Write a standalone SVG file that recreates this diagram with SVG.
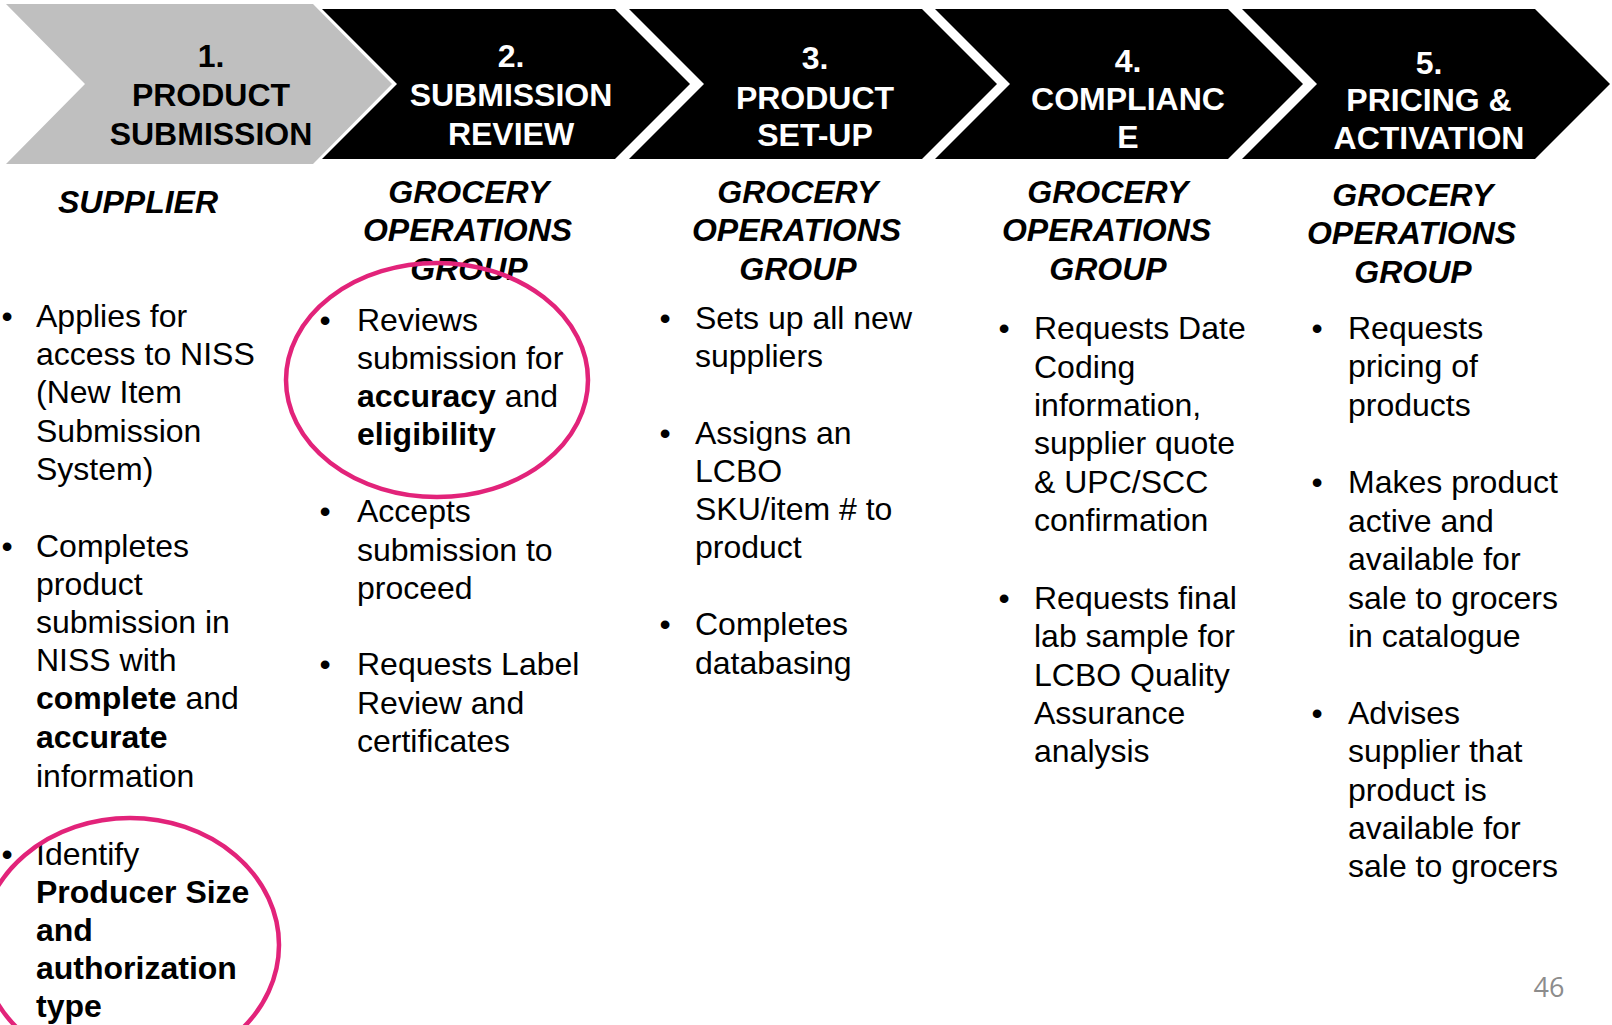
<svg xmlns="http://www.w3.org/2000/svg" width="1612" height="1025" viewBox="0 0 1612 1025">
  <style>
    .stage-dark { fill: #000000; }
    .stage-light { fill: #bfbfbf; }
    .stage-title { font-family: "Liberation Sans", Arial, sans-serif; font-weight: bold; font-size: 32px; text-anchor: middle; }
    .on-dark { fill: #ffffff; }
    .on-light { fill: #000000; }
    .role { font-family: "Liberation Sans", Arial, sans-serif; font-weight: bold; font-style: italic; font-size: 32px; text-anchor: middle; fill: #000000; }
    .body { font-family: "Liberation Sans", Arial, sans-serif; font-size: 32px; fill: #000000; }
    .bullet { font-family: "Liberation Sans", Arial, sans-serif; font-size: 32px; fill: #000000; text-anchor: middle; }
    .b { font-weight: bold; }
    .highlight { fill: none; stroke: #e2237a; stroke-width: 4.5; }
    .page-no { font-family: "Open Sans", "Liberation Sans", sans-serif; font-size: 27px; fill: #8c8c8c; text-anchor: middle; }
  </style>

  <rect width="1612" height="1025" fill="#ffffff"/>

  <!-- process chevrons -->
  <g id="stage-1">
    <polygon class="stage-light" points="6,4 313,4 392,84 313,164 6,164 85,84"/>
    <text class="stage-title on-light" x="211" y="67">1.</text>
    <text class="stage-title on-light" x="211" y="106">PRODUCT</text>
    <text class="stage-title on-light" x="211" y="145">SUBMISSION</text>
  </g>
  <g id="stage-2">
    <polygon class="stage-dark" points="322,9 615,9 690,84 615,159 322,159 397,84"/>
    <text class="stage-title on-dark" x="511" y="67">2.</text>
    <text class="stage-title on-dark" x="511" y="106">SUBMISSION</text>
    <text class="stage-title on-dark" x="511" y="145">REVIEW</text>
  </g>
  <g id="stage-3">
    <polygon class="stage-dark" points="629,9 922,9 997,84 922,159 629,159 704,84"/>
    <text class="stage-title on-dark" x="815" y="69">3.</text>
    <text class="stage-title on-dark" x="815" y="109">PRODUCT</text>
    <text class="stage-title on-dark" x="815" y="146">SET-UP</text>
  </g>
  <g id="stage-4">
    <polygon class="stage-dark" points="935,9 1228,9 1303,84 1228,159 935,159 1010,84"/>
    <text class="stage-title on-dark" x="1128" y="72">4.</text>
    <text class="stage-title on-dark" x="1128" y="110">COMPLIANC</text>
    <text class="stage-title on-dark" x="1128" y="148">E</text>
  </g>
  <g id="stage-5">
    <polygon class="stage-dark" points="1242,9 1535,9 1610,84 1535,159 1242,159 1317,84"/>
    <text class="stage-title on-dark" x="1429" y="74">5.</text>
    <text class="stage-title on-dark" x="1429" y="111">PRICING &amp;</text>
    <text class="stage-title on-dark" x="1429" y="149">ACTIVATION</text>
  </g>

  <!-- column 1: supplier -->
  <g id="col-supplier">
    <text class="role" x="138" y="213">SUPPLIER</text>
    <text class="bullet" x="7" y="327">•</text>
    <text class="body">
      <tspan x="36" y="327">Applies for</tspan>
      <tspan x="36" y="365">access to NISS</tspan>
      <tspan x="36" y="403">(New Item</tspan>
      <tspan x="36" y="442">Submission</tspan>
      <tspan x="36" y="480">System)</tspan>
    </text>
    <text class="bullet" x="7" y="557">•</text>
    <text class="body">
      <tspan x="36" y="557">Completes</tspan>
      <tspan x="36" y="595">product</tspan>
      <tspan x="36" y="633">submission in</tspan>
      <tspan x="36" y="671">NISS with</tspan>
      <tspan x="36" y="709"><tspan class="b">complete</tspan> and</tspan>
      <tspan x="36" y="748" class="b">accurate</tspan>
      <tspan x="36" y="787">information</tspan>
    </text>
    <text class="bullet" x="7" y="865">•</text>
    <text class="body">
      <tspan x="36" y="865">Identify</tspan>
      <tspan x="36" y="903" class="b">Producer Size</tspan>
      <tspan x="36" y="941" class="b">and</tspan>
      <tspan x="36" y="979" class="b">authorization</tspan>
      <tspan x="36" y="1017" class="b">type</tspan>
    </text>
  </g>

  <!-- column 2: submission review -->
  <g id="col-review">
    <text class="role">
      <tspan x="473" y="203">GROCERY</tspan>
      <tspan x="472" y="241">OPERATIONS</tspan>
      <tspan x="469" y="280">GROUP</tspan>
    </text>
    <text class="bullet" x="325" y="331">•</text>
    <text class="body">
      <tspan x="357" y="331">Reviews</tspan>
      <tspan x="357" y="369">submission for</tspan>
      <tspan x="357" y="407"><tspan class="b">accuracy</tspan> and</tspan>
      <tspan x="357" y="445" class="b">eligibility</tspan>
    </text>
    <text class="bullet" x="325" y="522">•</text>
    <text class="body">
      <tspan x="357" y="522">Accepts</tspan>
      <tspan x="357" y="561">submission to</tspan>
      <tspan x="357" y="599">proceed</tspan>
    </text>
    <text class="bullet" x="325" y="675">•</text>
    <text class="body">
      <tspan x="357" y="675">Requests Label</tspan>
      <tspan x="357" y="714">Review and</tspan>
      <tspan x="357" y="752">certificates</tspan>
    </text>
  </g>

  <!-- column 3: product set-up -->
  <g id="col-setup">
    <text class="role">
      <tspan x="802" y="203">GROCERY</tspan>
      <tspan x="801" y="241">OPERATIONS</tspan>
      <tspan x="798" y="280">GROUP</tspan>
    </text>
    <text class="bullet" x="665" y="329">•</text>
    <text class="body">
      <tspan x="695" y="329">Sets up all new</tspan>
      <tspan x="695" y="367">suppliers</tspan>
    </text>
    <text class="bullet" x="665" y="444">•</text>
    <text class="body">
      <tspan x="695" y="444">Assigns an</tspan>
      <tspan x="695" y="482">LCBO</tspan>
      <tspan x="695" y="520">SKU/item # to</tspan>
      <tspan x="695" y="558">product</tspan>
    </text>
    <text class="bullet" x="665" y="635">•</text>
    <text class="body">
      <tspan x="695" y="635">Completes</tspan>
      <tspan x="695" y="674">databasing</tspan>
    </text>
  </g>

  <!-- column 4: compliance -->
  <g id="col-compliance">
    <text class="role">
      <tspan x="1112" y="203">GROCERY</tspan>
      <tspan x="1111" y="241">OPERATIONS</tspan>
      <tspan x="1108" y="280">GROUP</tspan>
    </text>
    <text class="bullet" x="1004" y="339">•</text>
    <text class="body">
      <tspan x="1034" y="339">Requests Date</tspan>
      <tspan x="1034" y="378">Coding</tspan>
      <tspan x="1034" y="416">information,</tspan>
      <tspan x="1034" y="454">supplier quote</tspan>
      <tspan x="1034" y="493">&amp; UPC/SCC</tspan>
      <tspan x="1034" y="531">confirmation</tspan>
    </text>
    <text class="bullet" x="1004" y="609">•</text>
    <text class="body">
      <tspan x="1034" y="609">Requests final</tspan>
      <tspan x="1034" y="647">lab sample for</tspan>
      <tspan x="1034" y="686">LCBO Quality</tspan>
      <tspan x="1034" y="724">Assurance</tspan>
      <tspan x="1034" y="762">analysis</tspan>
    </text>
  </g>

  <!-- column 5: pricing & activation -->
  <g id="col-activation">
    <text class="role">
      <tspan x="1417" y="206">GROCERY</tspan>
      <tspan x="1416" y="244">OPERATIONS</tspan>
      <tspan x="1413" y="283">GROUP</tspan>
    </text>
    <text class="bullet" x="1317" y="339">•</text>
    <text class="body">
      <tspan x="1348" y="339">Requests</tspan>
      <tspan x="1348" y="377">pricing of</tspan>
      <tspan x="1348" y="416">products</tspan>
    </text>
    <text class="bullet" x="1317" y="493">•</text>
    <text class="body">
      <tspan x="1348" y="493">Makes product</tspan>
      <tspan x="1348" y="532">active and</tspan>
      <tspan x="1348" y="570">available for</tspan>
      <tspan x="1348" y="609">sale to grocers</tspan>
      <tspan x="1348" y="647">in catalogue</tspan>
    </text>
    <text class="bullet" x="1317" y="724">•</text>
    <text class="body">
      <tspan x="1348" y="724">Advises</tspan>
      <tspan x="1348" y="762">supplier that</tspan>
      <tspan x="1348" y="801">product is</tspan>
      <tspan x="1348" y="839">available for</tspan>
      <tspan x="1348" y="877">sale to grocers</tspan>
    </text>
  </g>

  <!-- hand-drawn style highlight rings -->
  <g id="highlights">
    <ellipse class="highlight" cx="437" cy="380" rx="151" ry="117"/>
    <ellipse class="highlight" cx="130" cy="945" rx="149" ry="127"/>
  </g>

  <text class="page-no" x="1549" y="997">46</text>
</svg>
